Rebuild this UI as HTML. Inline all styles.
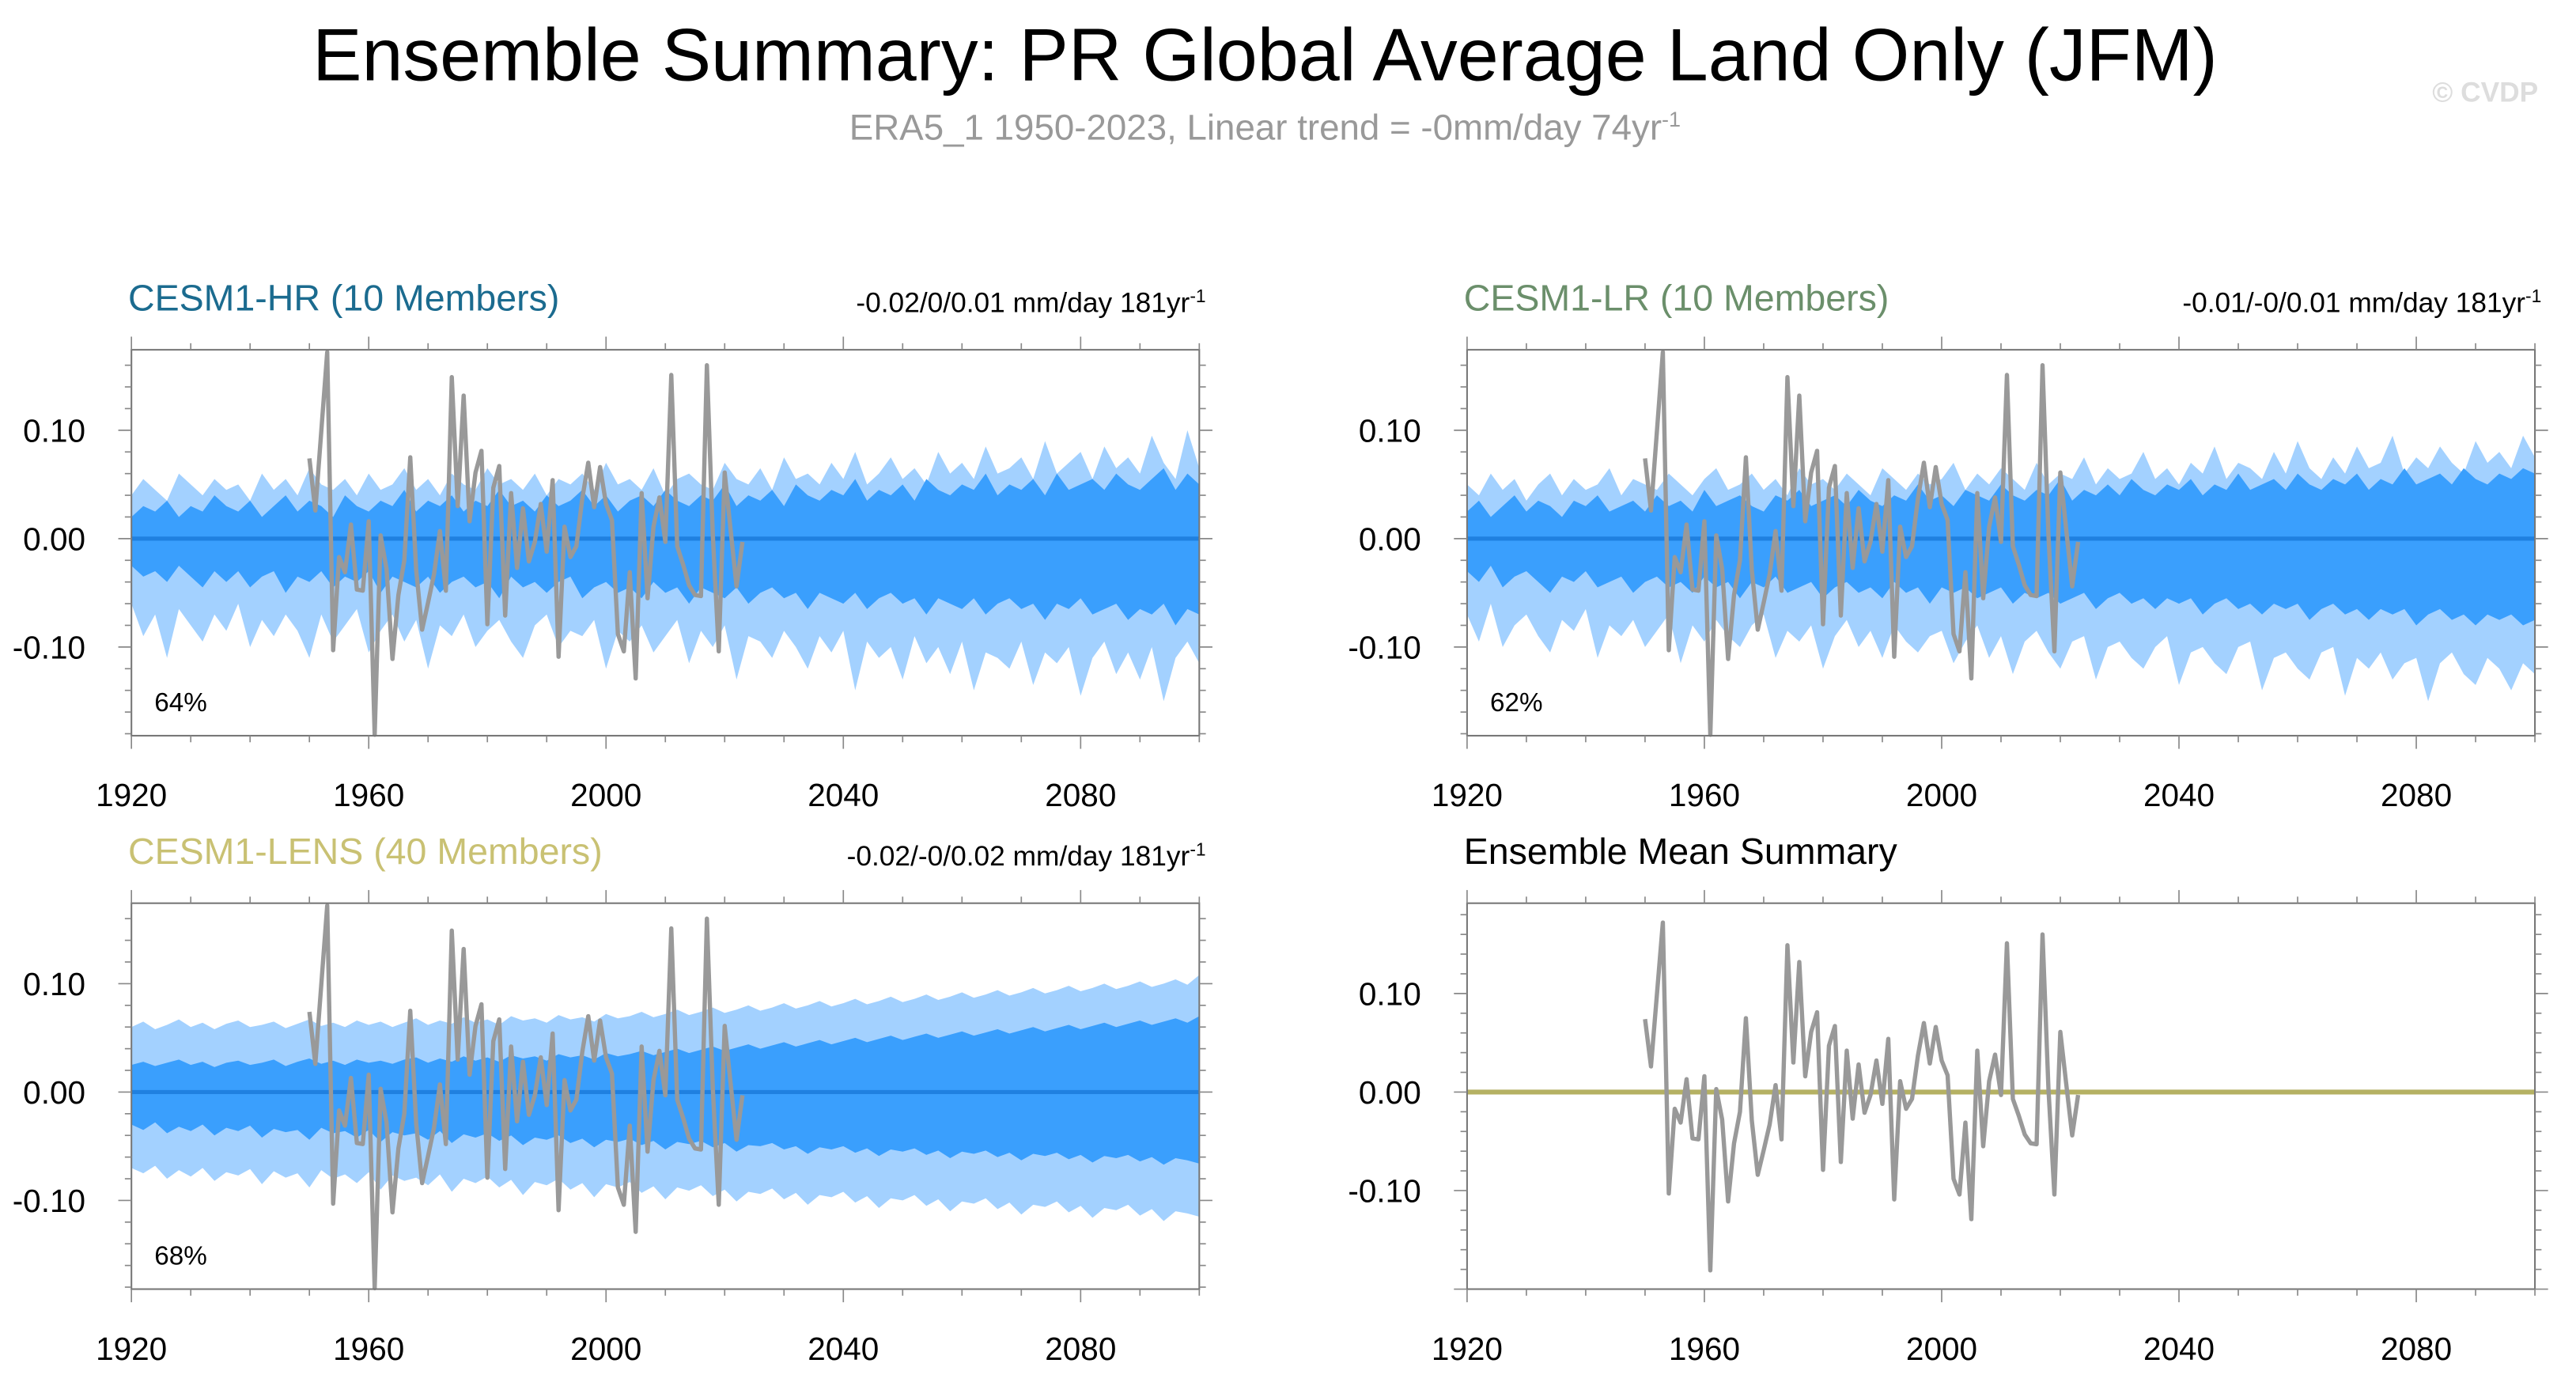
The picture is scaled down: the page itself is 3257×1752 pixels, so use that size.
<!DOCTYPE html>
<html><head><meta charset="utf-8"><style>
html,body{margin:0;padding:0;background:#fff;}
svg{display:block;}
text{font-family:"Liberation Sans",sans-serif;}
</style></head><body>
<svg id="chart" width="3257" height="1752" viewBox="0 0 1568 844" preserveAspectRatio="none" xmlns="http://www.w3.org/2000/svg">
<rect x="0" y="0" width="1568" height="844" fill="#fff"/>
<text x="770" y="49" font-size="45" text-anchor="middle" fill="#000">Ensemble Summary: PR Global Average Land Only (JFM)</text>
<text x="770" y="85" font-size="22" text-anchor="middle" fill="#999">ERA5_1 1950-2023, Linear trend = -0mm/day 74yr<tspan dy="-8" font-size="13">-1</tspan></text>
<text x="1545" y="62" font-size="17" text-anchor="end" fill="#ddd" font-weight="bold">© CVDP</text>
<g id="panels"></g>
</svg>
<script>
const years0 = 1920, years1 = 2100;
const obsYears = [1950,1951,1952,1953,1954,1955,1956,1957,1958,1959,1960,1961,1962,1963,1964,1965,1966,1967,1968,1969,1970,1971,1972,1973,1974,1975,1976,1977,1978,1979,1980,1981,1982,1983,1984,1985,1986,1987,1988,1989,1990,1991,1992,1993,1994,1995,1996,1997,1998,1999,2000,2001,2002,2003,2004,2005,2006,2007,2008,2009,2010,2011,2012,2013,2014,2015,2016,2017,2018,2019,2020,2021,2022,2023];
const obsValues = [0.074,0.026,0.099,0.172,-0.103,-0.017,-0.031,0.013,-0.047,-0.048,0.016,-0.181,0.003,-0.028,-0.111,-0.052,-0.02,0.075,-0.029,-0.084,-0.059,-0.033,0.007,-0.048,0.149,0.03,0.132,0.016,0.061,0.081,-0.079,0.047,0.067,-0.071,0.042,-0.027,0.028,-0.021,-0.003,0.032,-0.012,0.054,-0.109,0.011,-0.017,-0.007,0.037,0.07,0.029,0.066,0.032,0.017,-0.088,-0.104,-0.031,-0.129,0.042,-0.055,0.011,0.038,-0.003,0.151,-0.007,-0.024,-0.043,-0.052,-0.053,0.16,0.003,-0.104,0.061,0.008,-0.044,-0.003];
const yTickValues = [-0.1,0,0.1];
const yTickLabels = ["-0.10","0.00","0.10"];
const xTickValues = [1920,1960,2000,2040,2080];
const xTickLabels = ["1920","1960","2000","2040","2080"];
const hrOuterUp = [40,55,45,35,60,50,40,55,45,50,35,60,45,55,40,65,50,45,55,40,60,45,50,65,45,55,40,60,50,45,65,50,55,45,60,40,55,50,60,45,70,50,55,45,65,40,55,60,50,45,70,55,50,65,45,75,55,60,50,70,55,80,50,60,75,55,65,50,80,60,70,55,85,60,65,75,55,90,60,70,80,55,85,65,75,60,95,70,55,100,65];
const hrOuterLo = [-60,-90,-70,-110,-65,-80,-95,-70,-85,-60,-100,-75,-90,-70,-85,-110,-70,-95,-80,-65,-105,-85,-70,-95,-75,-120,-80,-90,-70,-100,-85,-75,-95,-110,-80,-70,-100,-85,-90,-75,-120,-85,-95,-80,-105,-90,-75,-115,-85,-100,-80,-130,-90,-95,-110,-85,-100,-120,-90,-105,-85,-140,-95,-110,-100,-130,-90,-115,-100,-125,-95,-140,-105,-110,-120,-95,-135,-105,-115,-100,-145,-110,-95,-125,-105,-130,-100,-150,-110,-95,-115];
const hrInnerUp = [20,30,25,35,20,30,25,40,30,25,35,20,30,40,25,35,30,20,40,30,25,35,30,45,25,35,30,40,25,35,30,45,30,35,25,40,30,35,45,30,40,25,35,40,30,45,35,30,40,35,50,30,40,35,45,30,50,40,35,45,40,55,35,45,40,50,35,55,45,40,50,45,60,40,50,45,55,40,60,45,50,55,45,60,50,45,55,65,45,60,50];
const hrInnerLo = [-25,-35,-30,-40,-25,-35,-45,-30,-40,-30,-45,-35,-30,-50,-35,-40,-30,-45,-35,-40,-30,-50,-35,-40,-45,-35,-50,-40,-35,-45,-40,-55,-35,-45,-40,-50,-40,-35,-55,-45,-40,-50,-45,-55,-40,-50,-45,-60,-45,-50,-55,-45,-60,-50,-45,-55,-50,-65,-50,-55,-60,-50,-65,-55,-50,-60,-55,-70,-55,-60,-65,-55,-70,-60,-55,-65,-60,-75,-60,-65,-55,-70,-65,-60,-75,-65,-70,-60,-80,-65,-70];
const lrOuterUp = [50,40,60,45,55,35,50,60,40,55,45,50,65,40,55,50,45,60,50,40,55,65,45,50,60,45,55,40,65,50,55,45,60,50,40,65,55,45,60,50,55,70,45,60,50,65,55,45,70,50,60,55,75,50,65,55,60,80,55,65,50,70,60,85,55,70,65,55,80,60,90,65,55,75,60,85,65,70,95,60,75,65,85,70,60,90,70,80,65,95,75];
const lrOuterLo = [-70,-95,-60,-100,-80,-70,-90,-105,-75,-85,-65,-110,-80,-90,-75,-100,-85,-70,-115,-80,-95,-75,-90,-100,-80,-70,-110,-85,-95,-80,-120,-90,-75,-100,-85,-110,-80,-95,-105,-90,-85,-115,-95,-80,-110,-90,-125,-95,-85,-105,-120,-95,-90,-130,-100,-95,-110,-120,-100,-90,-135,-105,-100,-115,-125,-100,-95,-140,-110,-105,-120,-130,-105,-100,-145,-110,-120,-105,-130,-115,-110,-150,-115,-105,-125,-135,-110,-120,-140,-115,-125];
const lrInnerUp = [25,35,20,30,40,25,35,30,20,35,30,40,25,30,35,25,40,30,35,25,45,30,35,40,30,25,40,35,45,30,35,40,30,45,35,30,40,35,50,35,40,30,45,40,35,50,40,35,45,40,55,35,45,40,50,40,55,45,40,50,45,55,40,50,45,60,45,50,55,45,60,50,45,55,50,60,45,55,50,65,50,55,60,50,65,55,50,60,55,65,60];
const lrInnerLo = [-30,-40,-25,-45,-35,-30,-40,-50,-35,-40,-30,-45,-40,-35,-50,-40,-35,-45,-40,-50,-35,-45,-40,-55,-40,-45,-35,-50,-45,-40,-55,-45,-40,-50,-45,-55,-40,-50,-45,-60,-45,-50,-45,-55,-50,-45,-60,-50,-55,-50,-60,-55,-50,-65,-55,-50,-60,-55,-65,-55,-60,-55,-70,-60,-55,-65,-60,-70,-60,-65,-60,-75,-65,-60,-70,-65,-75,-65,-70,-65,-80,-70,-65,-75,-70,-80,-70,-75,-70,-80,-75];
const lensOuterUp = [60,65,58,62,67,60,64,58,63,66,60,62,65,59,63,67,61,64,60,66,62,65,60,64,68,62,66,63,69,64,67,62,70,66,68,64,71,67,69,65,72,68,70,74,69,72,76,71,74,78,73,76,80,75,78,82,77,80,84,79,82,86,81,84,88,83,86,90,85,88,92,87,90,94,89,92,96,91,94,98,93,96,100,95,98,102,97,100,104,99,108];
const lensOuterLo = [-70,-75,-68,-80,-72,-78,-70,-82,-74,-77,-71,-85,-73,-79,-75,-88,-72,-80,-76,-84,-74,-90,-77,-82,-79,-86,-76,-92,-80,-84,-78,-88,-81,-95,-83,-86,-80,-90,-84,-97,-85,-88,-83,-93,-87,-99,-88,-91,-86,-96,-90,-101,-92,-94,-89,-99,-93,-104,-95,-97,-92,-102,-96,-107,-98,-100,-95,-105,-99,-110,-101,-103,-98,-108,-102,-113,-104,-106,-101,-111,-105,-116,-107,-109,-104,-114,-108,-119,-110,-112,-115];
const lensInnerUp = [25,28,24,27,30,25,28,23,27,29,25,27,30,24,28,31,26,29,25,30,27,29,26,30,32,27,31,28,33,29,32,28,34,31,33,29,35,32,34,30,36,33,35,38,34,37,40,36,39,42,38,41,44,40,43,46,42,45,48,44,47,50,46,49,52,48,51,54,50,53,56,52,55,58,54,57,60,56,59,62,58,61,64,60,63,66,62,65,68,64,70];
const lensInnerLo = [-30,-35,-28,-38,-32,-36,-30,-40,-33,-36,-31,-42,-34,-37,-35,-44,-33,-38,-36,-42,-35,-46,-37,-40,-38,-44,-36,-47,-39,-42,-38,-45,-40,-49,-42,-44,-40,-47,-43,-51,-44,-46,-43,-49,-45,-53,-46,-48,-45,-51,-47,-55,-49,-50,-47,-53,-50,-57,-51,-53,-50,-56,-52,-59,-53,-55,-52,-58,-54,-61,-55,-57,-54,-60,-56,-63,-57,-59,-56,-62,-58,-65,-59,-61,-58,-64,-60,-67,-61,-63,-66];
const ensMeanValues = [0,0];

const NS = "http://www.w3.org/2000/svg";
const root = document.getElementById('panels');
function mk(tag, attrs, parent){ const e=document.createElementNS(NS,tag); for(const k in attrs) e.setAttribute(k,attrs[k]); (parent||root).appendChild(e); return e; }

function drawPanel(p){
  const g = mk('g',{});
  
  
  const L=p.x, T=p.y, W=650, H=235;
  const xs = yr => L + (yr-years0)/(years1-years0)*W;
  const ys = v => T + p.zeroOff - v*p.pxPerUnit;
  function band(up, lo, fill, nm){
    const n=up.length, step=(years1-years0)/(n-1);
    let d='';
    for(let i=0;i<n;i++) d += (i?'L':'M')+xs(years0+i*step).toFixed(2)+','+ys(up[i]/1000).toFixed(2);
    for(let i=lo.length-1;i>=0;i--) d += 'L'+xs(years0+i*step).toFixed(2)+','+ys(lo[i]/1000).toFixed(2);
    const e = mk('path',{d:d+'Z',fill:fill},g);
    
    
  }
  if(p.bands){
    band(p.bands[0],p.bands[1],'#a3d1ff','outer-spread-band');
    band(p.bands[2],p.bands[3],'#3a9ffd','inner-spread-band');
  }
  const mean = mk('line',{x1:xs(years0),x2:xs(years1),y1:ys(ensMeanValues[0]),y2:ys(ensMeanValues[1]),stroke:p.meanColor,'stroke-width':p.meanW},g);
  
  
  const pts = obsYears.map((y,i)=>xs(y).toFixed(2)+','+ys(obsValues[i]).toFixed(2)).join(' ');
  const ob = mk('polyline',{points:pts,fill:'none',stroke:'#999','stroke-width':2.6,'stroke-linejoin':'round'},g);
  
  
  const fr = mk('rect',{x:L,y:T,width:W,height:H,fill:'none',stroke:'#777','stroke-width':1},g);
  
  
  for(let k=-20;k<=20;k++){
    const v=k*0.02; const yy=ys(v);
    if(yy<T-0.1||yy>T+H+0.1) continue;
    const major = k%5===0;
    const len = major?8:4;
    mk('line',{x1:L,x2:L-len,y1:yy,y2:yy,stroke:'#888','stroke-width':0.8},g);
    mk('line',{x1:L+W,x2:L+W+len,y1:yy,y2:yy,stroke:'#888','stroke-width':0.8},g);
  }
  yTickValues.forEach((v,i)=>{
    const t = mk('text',{x:L-28,y:ys(v)+7,'font-size':19.5,'text-anchor':'end',fill:'#000'},g);
    t.textContent = yTickLabels[i];
    
    
  });
  for(let yr=1920; yr<=2100; yr+=10){
    const xx=xs(yr); const major=(yr-1920)%40===0; const len=major?8:4;
    mk('line',{x1:xx,x2:xx,y1:T+H,y2:T+H+len,stroke:'#888','stroke-width':0.8},g);
    mk('line',{x1:xx,x2:xx,y1:T,y2:T-len,stroke:'#888','stroke-width':0.8},g);
  }
  xTickValues.forEach((v,i)=>{
    const t = mk('text',{x:xs(v),y:T+H+43,'font-size':19.5,'text-anchor':'middle',fill:'#000'},g);
    t.textContent = xTickLabels[i];
    
    
  });
  const tl = mk('text',{x:L-2,y:T-24,'font-size':22.4,fill:p.titleColor},g);
  tl.textContent = p.title;
  
  
  if(p.trend){
    const tr = mk('text',{x:L+W+4,y:T-23,'font-size':17,'text-anchor':'end',fill:'#000'},g);
    tr.textContent = p.trend;
    const sp = mk('tspan',{dy:-6,'font-size':11},tr);
    sp.textContent='-1';
    
    
  }
  if(p.pct){
    const pc = mk('text',{x:L+14,y:T+H-15,'font-size':16,fill:'#000'},g);
    pc.textContent = p.pct;
    
    
  }
}
drawPanel({name:'panel-cesm1-hr',x:80,y:213,zeroOff:115,pxPerUnit:660,bands:[hrOuterUp,hrOuterLo,hrInnerUp,hrInnerLo],meanColor:'#1f80e0',meanW:2.5,title:'CESM1-HR (10 Members)',titleColor:'#1b6b8f',trend:'-0.02/0/0.01 mm/day 181yr',pct:'64%'});
drawPanel({name:'panel-cesm1-lr',x:893,y:213,zeroOff:115,pxPerUnit:660,bands:[lrOuterUp,lrOuterLo,lrInnerUp,lrInnerLo],meanColor:'#1f80e0',meanW:2.5,title:'CESM1-LR (10 Members)',titleColor:'#6b8f6b',trend:'-0.01/-0/0.01 mm/day 181yr',pct:'62%'});
drawPanel({name:'panel-cesm1-lens',x:80,y:550,zeroOff:115,pxPerUnit:660,bands:[lensOuterUp,lensOuterLo,lensInnerUp,lensInnerLo],meanColor:'#1f80e0',meanW:2.5,title:'CESM1-LENS (40 Members)',titleColor:'#c9c173',trend:'-0.02/-0/0.02 mm/day 181yr',pct:'68%'});
drawPanel({name:'panel-ensemble-mean-summary',x:893,y:550,zeroOff:115,pxPerUnit:600,bands:null,meanColor:'#b5b163',meanW:3,title:'Ensemble Mean Summary',titleColor:'#000',trend:null,pct:null});
</script>
</body></html>
